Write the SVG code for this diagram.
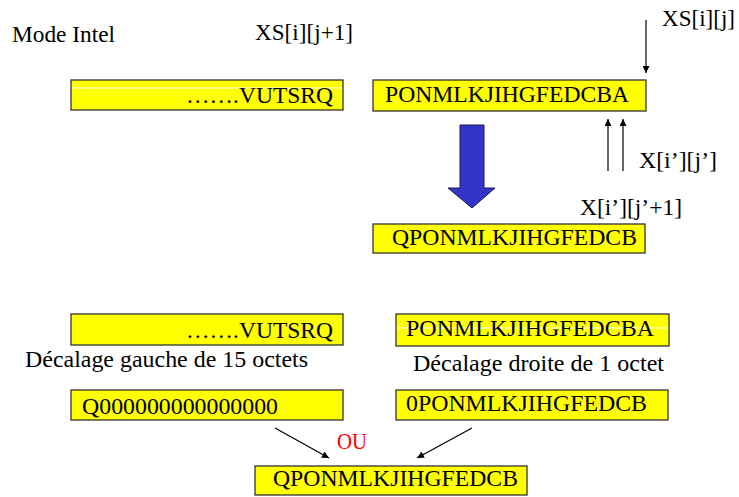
<svg xmlns="http://www.w3.org/2000/svg" width="739" height="497" viewBox="0 0 739 497">
<style>
.box{fill:#ffff00;stroke:#333;stroke-width:1.3}
.wl{stroke:#fff;stroke-width:1.2}
.ln{stroke:#000;stroke-width:1.2;fill:none}
</style>
<defs>
<marker id="ah" viewBox="0 0 10 10" refX="10" refY="5" markerWidth="7" markerHeight="7" markerUnits="userSpaceOnUse" orient="auto">
<path d="M0,0 L10,5 L0,10 z" fill="#000"/>
</marker>
</defs>
<rect width="739" height="497" fill="#fff"/>
<g font-family="Liberation Serif" font-size="23" fill="#000">
<text x="12" y="42" textLength="103" lengthAdjust="spacingAndGlyphs">Mode Intel</text>
<text x="255" y="40" textLength="98" lengthAdjust="spacingAndGlyphs">XS[i][j+1]</text>
<text x="662" y="26" textLength="73" lengthAdjust="spacingAndGlyphs">XS[i][j]</text>
<text x="639" y="168" textLength="78" lengthAdjust="spacingAndGlyphs">X[i’][j’]</text>
<text x="580" y="215" textLength="102" lengthAdjust="spacingAndGlyphs">X[i’][j’+1]</text>
<text x="25" y="367" textLength="283" lengthAdjust="spacingAndGlyphs">Décalage gauche de 15 octets</text>
<text x="413" y="371" textLength="251" lengthAdjust="spacingAndGlyphs">Décalage droite de 1 octet</text>
<text fill="#ff0000" x="337" y="449" textLength="30" lengthAdjust="spacingAndGlyphs">OU</text>
<g id="n1">
<rect class="box" x="71" y="80" width="272" height="30"/>
<line class="wl" x1="72" y1="88" x2="342" y2="88"/>
<text x="186" y="103" textLength="147" lengthAdjust="spacingAndGlyphs">…….VUTSRQ</text>
</g>
<g id="n2">
<rect class="box" x="373" y="80" width="273" height="31"/>
<text x="385" y="102" textLength="244" lengthAdjust="spacingAndGlyphs">PONMLKJIHGFEDCBA</text>
</g>
<g id="n3">
<rect class="box" x="373" y="224" width="272" height="29"/>
<text x="392" y="245" textLength="245" lengthAdjust="spacingAndGlyphs">QPONMLKJIHGFEDCB</text>
</g>
<g id="n4">
<rect class="box" x="71" y="314" width="272" height="31"/>
<text x="186" y="338" textLength="147" lengthAdjust="spacingAndGlyphs">…….VUTSRQ</text>
</g>
<g id="n5">
<rect class="box" x="396" y="314" width="273" height="32"/>
<line class="wl" x1="397" y1="328" x2="668" y2="328"/>
<text x="406" y="336" textLength="248" lengthAdjust="spacingAndGlyphs">PONMLKJIHGFEDCBA</text>
</g>
<g id="n6">
<rect class="box" x="71" y="390" width="272" height="30"/>
<text x="82" y="414" textLength="196" lengthAdjust="spacingAndGlyphs">Q000000000000000</text>
</g>
<g id="n7">
<rect class="box" x="396" y="390" width="272" height="30"/>
<text x="406" y="411" textLength="241" lengthAdjust="spacingAndGlyphs">0PONMLKJIHGFEDCB</text>
</g>
<g id="n8">
<rect class="box" x="255" y="466" width="272" height="29"/>
<text x="273" y="486" textLength="245" lengthAdjust="spacingAndGlyphs">QPONMLKJIHGFEDCB</text>
</g>
</g>
<g id="connectors">
<line class="ln" x1="646" y1="20" x2="646" y2="73" marker-end="url(#ah)"/>
<line class="ln" x1="608" y1="171" x2="608" y2="119" marker-end="url(#ah)"/>
<line class="ln" x1="623" y1="171" x2="623" y2="119" marker-end="url(#ah)"/>
<line class="ln" x1="275" y1="428" x2="329" y2="458" marker-end="url(#ah)"/>
<line class="ln" x1="472" y1="428" x2="417" y2="458" marker-end="url(#ah)"/>
<path d="M460,125 L484,125 L484,188 L495,188 L472,208 L448,188 L460,188 Z" fill="#3434c8" stroke="#1a1a55" stroke-width="1"/>
</g>
</svg>
